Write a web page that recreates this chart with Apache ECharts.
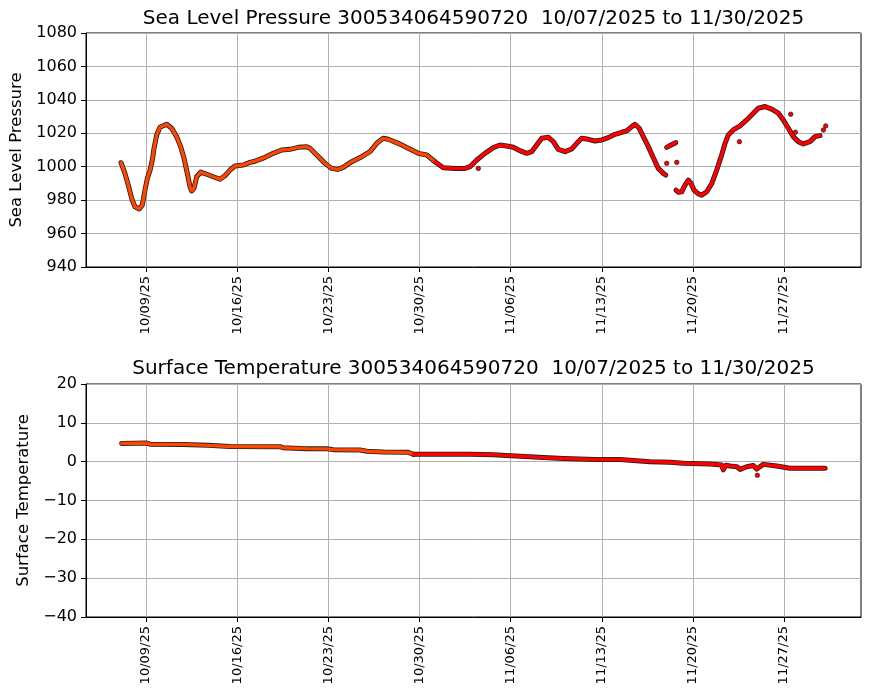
<!DOCTYPE html>
<html>
<head>
<meta charset="utf-8">
<title>Sea Level Pressure / Surface Temperature 300534064590720</title>
<script src="https://cdn.jsdelivr.net/npm/echarts@6/dist/echarts.min.js"></script>
<style>
html, body { margin: 0; padding: 0; background: #fff; }
#chart { width: 870px; height: 700px; }
</style>
</head>
<body>
<div id="chart"></div>
<script>
// x is days after 2025-10-07 00:00, null value = gap in the record
const buoyId = '300534064590720';
const period = '10/07/2025 to 11/30/2025';

const slpDays = [0.08, 0.38, 0.64, 0.90, 1.15, 1.48, 1.71, 1.92, 2.10, 2.30, 2.51, 2.59, 2.82, 3.07, 3.59, 3.97,
    4.35, 4.66, 4.92, 5.17, 5.38, 5.51, 5.68, 5.89, 6.20, 6.66, 7.17, 7.68, 8.06, 8.45, 8.83, 9.47, 9.98,
    10.37, 11.14, 11.77, 12.42, 13.06, 13.69, 14.34, 14.59, 15.11, 15.75, 16.26, 16.72, 17.15, 17.80, 18.56,
    19.20, 19.72, 20.22, 20.61, 21.37, 22.14, 22.91, 23.56, 24.19, 24.83, 25.73, 26.50, 26.88, 27.40, 28.03,
    28.67, 29.19, 29.70, 30.21, 30.72, 31.24, 31.62, 32.00, 32.39, 32.90, 33.28, 33.66, 34.18, 34.69, 35.08,
    35.46, 35.97, 36.48, 37.00, 37.50, 38.02, 38.53, 38.92, 39.30, 39.55, 39.88, 40.19, 40.58, 40.96, 41.34,
    41.73, 41.91, 41.95, 41.99, 42.32, 42.68, 42.69, 42.70, 42.88, 43.14, 43.39, 43.65, 43.86, 44.09, 44.42,
    44.68, 45.06, 45.45, 45.83, 46.21, 46.47, 46.72, 47.10, 47.62, 48.13, 48.64, 49.02, 49.54, 50.05, 50.56,
    50.94, 51.33, 51.71, 52.10, 52.48, 52.99, 53.38, 53.76];
const slpValues = [1002.4, 996, 989, 981, 976, 974.7, 977, 986, 993, 997.6, 1005, 1010, 1019, 1023.6, 1025.4, 1023,
    1018, 1012, 1005, 996, 988, 985.5, 987, 994, 996.8, 995.5, 994, 992.5, 994.6, 998, 1000.4, 1001, 1002.6,
    1003.3, 1005.6, 1008, 1010, 1010.4, 1011.6, 1012, 1011, 1007, 1002, 999, 998.4, 999.6, 1003, 1006,
    1009, 1014, 1017, 1016.4, 1014, 1011, 1008, 1007, 1003, 999.4, 999, 999, 1000, 1004, 1008,
    1011.4, 1013, 1012.4, 1011.6, 1009.6, 1008, 1009, 1013, 1017, 1017.6, 1015, 1010.4, 1009, 1010.6, 1014,
    1017, 1016.4, 1015.4, 1016, 1017.4, 1019.4, 1020.6, 1021.4, 1024, 1025.4, 1023, 1018, 1012, 1005.4, 999,
    996, 995, null, 1011.6, 1013, 1014.4, null, 986, 984.7, 985, 989, 992, 990, 986, 983.7,
    983, 985, 990, 998, 1007, 1014, 1019, 1022, 1024.5, 1028, 1032, 1035, 1036, 1034.5, 1032,
    1028, 1023, 1018, 1015, 1013.6, 1015, 1018, 1018.6];
const slpStrayDays = [27.52, 41.99, 42.76, 47.57, 51.51, 51.87, 54.02, 54.20];
const slpStrayValues = [999, 1002, 1002.6, 1015, 1031.4, 1020.6, 1022, 1024.4];

const sstDays = [0.13, 2.05, 2.30, 4.86, 6.78, 8.45, 12.29, 12.52, 14.34, 15.88, 16.38, 18.43, 18.95, 20.22, 22.14,
    22.53, 26.88, 28.67, 30.72, 32.51, 34.05, 36.48, 38.40, 40.71, 42.24, 43.26, 45.31, 46.21, 46.33, 46.54,
    46.85, 47.37, 47.62, 48.13, 48.64, 48.90, 49.41, 50.44, 51.46, 52.48, 54.15];
const sstValues = [4.7, 4.8, 4.5, 4.45, 4.2, 3.9, 3.85, 3.6, 3.35, 3.3, 3.1, 3.0, 2.7, 2.5, 2.4,
    1.9, 1.9, 1.8, 1.4, 1.05, 0.8, 0.55, 0.55, 0.0, -0.15, -0.4, -0.6, -0.85, -2.1, -0.9,
    -1.1, -1.3, -2.0, -1.3, -1.0, -1.9, -0.7, -1.1, -1.7, -1.7, -1.7];
const sstStrayDays = [48.95];
const sstStrayValues = [-3.5];

const tickDays = [2, 9, 16, 23, 30, 37, 44, 51];
const tickLabels = ['10/09/25', '10/16/25', '10/23/25', '10/30/25', '11/06/25', '11/13/25', '11/20/25', '11/27/25'];
const colorChangeDay = 24.6;   // track turns from orange-red to red here

const FONT = 'DejaVu Sans';
const ORANGE = '#ff4500';
const RED = '#ff0000';
const EDGE = '#1e1e1e';
const GRIDLINE = '#b0b0b0';

// split a track into the orange part and the red part, sharing one point
function splitTrack(days, vals) {
    let a = [], b = [];
    days.forEach(function (d, i) {
        (d <= colorChangeDay ? a : b).push([d, vals[i]]);
    });
    if (a.length && b.length) b.unshift(a[a.length - 1]);
    return [a, b];
}

function track(idx, pts, color) {
    let base = {
        type: 'line', xAxisIndex: idx, yAxisIndex: idx, data: pts,
        symbol: 'none', silent: true, connectNulls: false
    };
    return [
        Object.assign({}, base, { z: 2, lineStyle: { color: EDGE, width: 5, join: 'round', cap: 'round' } }),
        Object.assign({}, base, { z: 3, lineStyle: { color: color, width: 3.4, join: 'round', cap: 'round' } })
    ];
}

function strays(idx, days, vals) {
    return {
        type: 'scatter', xAxisIndex: idx, yAxisIndex: idx, z: 4, silent: true,
        data: days.map(function (d, i) { return [d, vals[i]]; }),
        symbolSize: 4.5,
        itemStyle: { color: RED, borderColor: EDGE, borderWidth: 0.7, opacity: 1 }
    };
}

function xAxis(idx) {
    return {
        type: 'value', gridIndex: idx, min: -2.61, max: 56.91,
        axisLine: { show: true, onZero: false, lineStyle: { color: '#000', width: 1 } },
        axisTick: { show: true, customValues: tickDays, length: 5, lineStyle: { color: '#000' } },
        axisLabel: {
            customValues: tickDays, rotate: 90, margin: 9, fontSize: 13, color: '#000', fontFamily: FONT,
            formatter: function (v) { return tickLabels[tickDays.indexOf(v)] || ''; }
        },
        splitLine: { show: true, lineStyle: { color: GRIDLINE, width: 1 } }
    };
}

function yAxis(idx, name, min, max, interval, gap) {
    return {
        type: 'value', gridIndex: idx, min: min, max: max, interval: interval,
        name: name, nameLocation: 'middle', nameGap: gap,
        nameTextStyle: { fontSize: 16.5, color: '#000', fontFamily: FONT },
        axisLine: { show: true, onZero: false, lineStyle: { color: '#000', width: 1 } },
        axisTick: { show: true, length: 5, lineStyle: { color: '#000' } },
        axisLabel: {
            fontSize: 16, color: '#000', margin: 9, fontFamily: FONT,
            formatter: function (v) { return String(v).replace('-', '\u2212'); }
        },
        splitLine: { show: true, lineStyle: { color: GRIDLINE, width: 1 } }
    };
}

let slp = splitTrack(slpDays, slpValues);
let sst = splitTrack(sstDays, sstValues);

let chart = echarts.init(document.getElementById('chart'));
chart.setOption({
    animation: false,
    backgroundColor: '#fff',
    textStyle: { fontFamily: FONT },
    title: [
        {
            text: 'Sea Level Pressure ' + buoyId + '  ' + period,
            left: 473.5, top: 9, textAlign: 'center', padding: 0,
            textStyle: { fontSize: 20, fontWeight: 'normal', color: '#000', fontFamily: FONT }
        },
        {
            text: 'Surface Temperature ' + buoyId + '  ' + period,
            left: 473.5, top: 359, textAlign: 'center', padding: 0,
            textStyle: { fontSize: 20, fontWeight: 'normal', color: '#000', fontFamily: FONT }
        }
    ],
    grid: [
        { left: 86, top: 33, width: 775, height: 234, show: true, borderColor: '#000', borderWidth: 1 },
        { left: 86, top: 384, width: 775, height: 233, show: true, borderColor: '#000', borderWidth: 1 }
    ],
    xAxis: [xAxis(0), xAxis(1)],
    yAxis: [
        yAxis(0, 'Sea Level Pressure', 940, 1080, 20, 58),
        yAxis(1, 'Surface Temperature', -40, 20, 10, 52)
    ],
    series: [].concat(
        track(0, slp[0], ORANGE), track(0, slp[1], RED), [strays(0, slpStrayDays, slpStrayValues)],
        track(1, sst[0], ORANGE), track(1, sst[1], RED), [strays(1, sstStrayDays, sstStrayValues)]
    )
});
</script>
</body>
</html>
